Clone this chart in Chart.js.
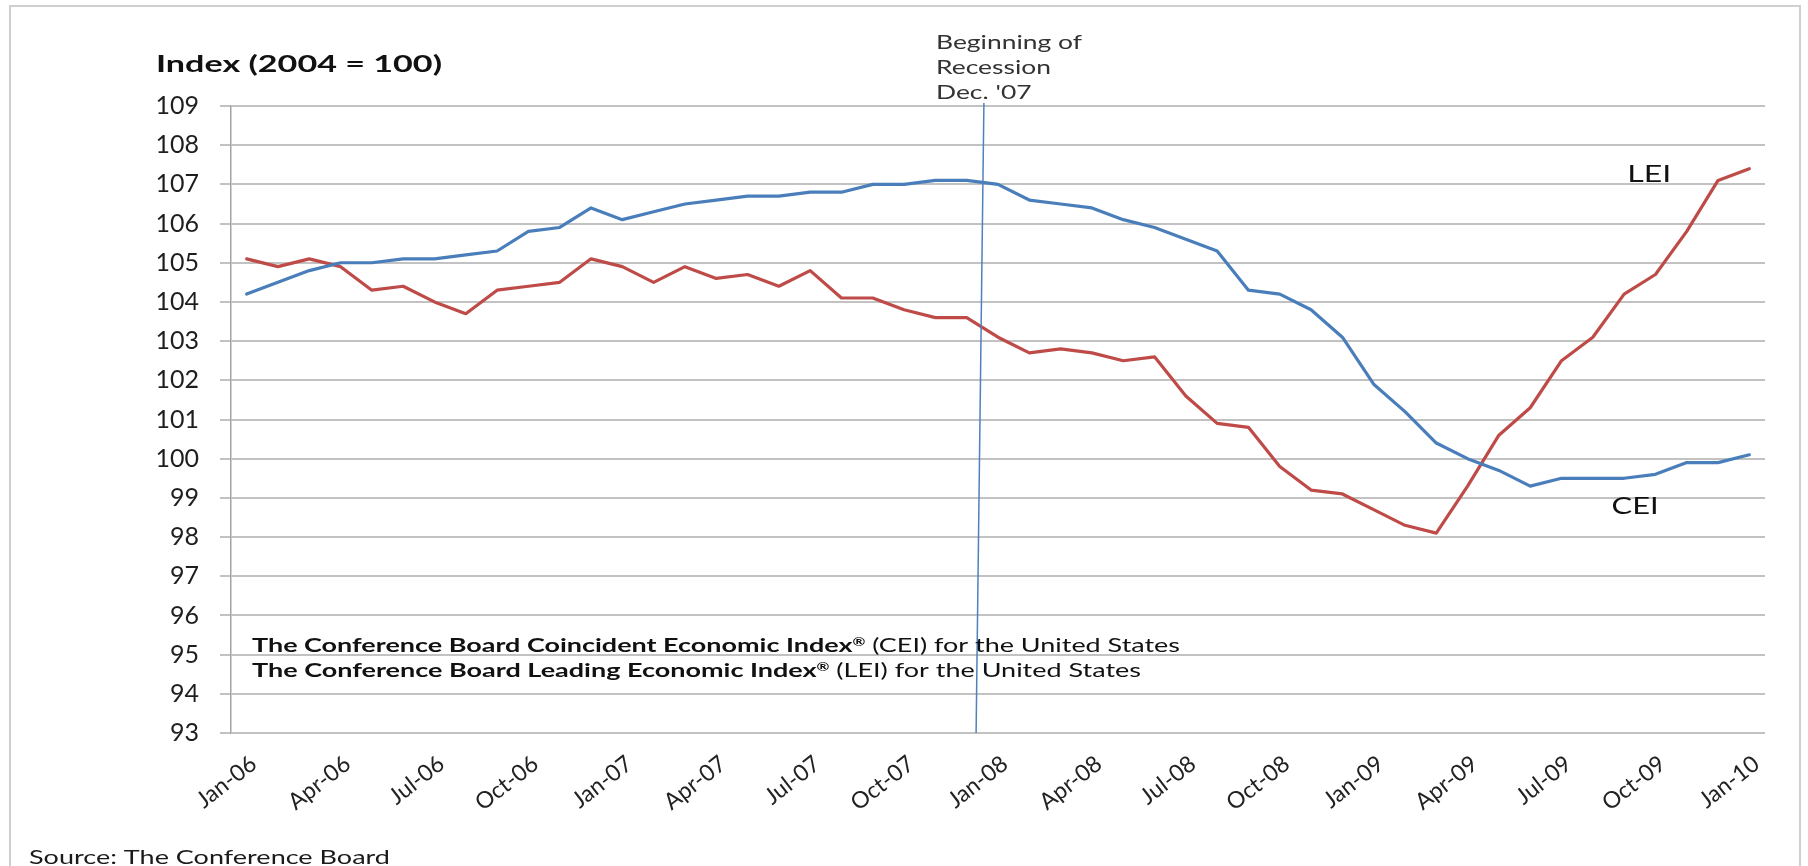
<!DOCTYPE html>
<html>
<head>
<meta charset="utf-8">
<title>Conference Board CEI and LEI</title>
<script src="https://cdn.jsdelivr.net/npm/chart.js@4.4.1/dist/chart.umd.min.js"></script>
<style>
    html, body { margin: 0; padding: 0; background: #fff; }
    canvas { display: block; }
</style>
</head>
<body>
<canvas id="indexChart" width="1808" height="866"></canvas>
<script>
// Monthly readings, Jan 2006 - Jan 2010
const months = [
    'Jan-06', 'Feb-06', 'Mar-06', 'Apr-06', 'May-06', 'Jun-06', 'Jul-06', 'Aug-06', 'Sep-06', 'Oct-06', 'Nov-06', 'Dec-06',
    'Jan-07', 'Feb-07', 'Mar-07', 'Apr-07', 'May-07', 'Jun-07', 'Jul-07', 'Aug-07', 'Sep-07', 'Oct-07', 'Nov-07', 'Dec-07',
    'Jan-08', 'Feb-08', 'Mar-08', 'Apr-08', 'May-08', 'Jun-08', 'Jul-08', 'Aug-08', 'Sep-08', 'Oct-08', 'Nov-08', 'Dec-08',
    'Jan-09', 'Feb-09', 'Mar-09', 'Apr-09', 'May-09', 'Jun-09', 'Jul-09', 'Aug-09', 'Sep-09', 'Oct-09', 'Nov-09', 'Dec-09',
    'Jan-10'
];

const cei = [
    104.2, 104.5, 104.8, 105.0, 105.0, 105.1, 105.1, 105.2, 105.3, 105.8, 105.9, 106.4,
    106.1, 106.3, 106.5, 106.6, 106.7, 106.7, 106.8, 106.8, 107.0, 107.0, 107.1, 107.1,
    107.0, 106.6, 106.5, 106.4, 106.1, 105.9, 105.6, 105.3, 104.3, 104.2, 103.8, 103.1,
    101.9, 101.2, 100.4, 100.0, 99.7, 99.3, 99.5, 99.5, 99.5, 99.6, 99.9, 99.9,
    100.1
];

const lei = [
    105.1, 104.9, 105.1, 104.9, 104.3, 104.4, 104.0, 103.7, 104.3, 104.4, 104.5, 105.1,
    104.9, 104.5, 104.9, 104.6, 104.7, 104.4, 104.8, 104.1, 104.1, 103.8, 103.6, 103.6,
    103.1, 102.7, 102.8, 102.7, 102.5, 102.6, 101.6, 100.9, 100.8, 99.8, 99.2, 99.1,
    98.7, 98.3, 98.1, 99.3, 100.6, 101.3, 102.5, 103.1, 104.2, 104.7, 105.8, 107.1,
    107.4
];

// quarterly labels along the bottom
const xTickLabels = [
    'Jan-06', 'Apr-06', 'Jul-06', 'Oct-06', 'Jan-07', 'Apr-07', 'Jul-07', 'Oct-07',
    'Jan-08', 'Apr-08', 'Jul-08', 'Oct-08', 'Jan-09', 'Apr-09', 'Jul-09', 'Oct-09', 'Jan-10'
];

const yMin = 93;
const yMax = 109;
const yStep = 1;

const FONT = 'Lato, "Open Sans", sans-serif';

// measure a run of text pieces and draw them squeezed/stretched to a width
function measureParts(ctx, parts) {
    let total = 0;
    parts.forEach(function(p) {
        ctx.font = p.font;
        p.w = ctx.measureText(p.text).width;
        total += p.w;
    });
    return total;
}

function drawParts(ctx, parts, x, y, sx, color) {
    ctx.save();
    ctx.fillStyle = color;
    ctx.textBaseline = 'alphabetic';
    ctx.textAlign = 'left';
    ctx.translate(x, y);
    ctx.scale(sx, 1);
    let cx = 0;
    parts.forEach(function(p) {
        ctx.font = p.font;
        ctx.fillText(p.text, cx, p.dy || 0);
        cx += p.w;
    });
    ctx.restore();
}

function drawFitted(ctx, parts, x, y, width, color) {
    const natural = measureParts(ctx, parts);
    drawParts(ctx, parts, x, y, width / natural, color);
}

const frame = {
    id: 'frame',
    beforeDraw(chart) {
        const ctx = chart.ctx;
        ctx.save();
        ctx.fillStyle = '#fff';
        ctx.fillRect(0, 0, chart.width, chart.height);
        ctx.strokeStyle = '#cfcfcf';
        ctx.lineWidth = 2;
        ctx.strokeRect(10, 6, 1790, 900);
        ctx.restore();
    }
};

const notes = {
    id: 'notes',
    afterDatasetsDraw(chart) {
        const ctx = chart.ctx;
        const x = chart.scales.x;
        const y = chart.scales.y;

        // recession marker, between Dec-07 and Jan-08
        const dec07 = months.indexOf('Dec-07');
        ctx.save();
        ctx.strokeStyle = '#4f81bd';
        ctx.lineWidth = 1.5;
        ctx.beginPath();
        ctx.moveTo(x.getPixelForValue(dec07 + 0.55), 103);
        ctx.lineTo(x.getPixelForValue(dec07 + 0.3), y.getPixelForValue(yMin));
        ctx.stroke();
        ctx.restore();
    },
    afterDraw(chart) {
        const ctx = chart.ctx;
        const x = chart.scales.x;
        const y = chart.scales.y;
        const area = chart.chartArea;

        // axis title
        drawFitted(ctx, [{ text: 'Index (2004 = 100)', font: 'bold 23px ' + FONT }], 156, 72, 286, '#111');

        // recession note
        const noteFont = '20px ' + FONT;
        const first = [{ text: 'Beginning of', font: noteFont }];
        const sx = 146 / measureParts(ctx, first);
        drawParts(ctx, first, 936, 49, sx, '#333');
        ['Recession', 'Dec. \'07'].forEach(function(line, i) {
            const parts = [{ text: line, font: noteFont }];
            measureParts(ctx, parts);
            drawParts(ctx, parts, 936, 74 + i * 25, sx, '#333');
        });

        // series names next to the lines
        drawFitted(ctx, [{ text: 'LEI', font: '24px ' + FONT }],
            x.getPixelForValue(44.1), y.getPixelForValue(107.05), 44, '#111');
        drawFitted(ctx, [{ text: 'CEI', font: '24px ' + FONT }],
            x.getPixelForValue(43.6), y.getPixelForValue(98.6), 47, '#111');

        // index descriptions inside the plot
        const bold = 'bold 19px ' + FONT;
        const reg = '19px ' + FONT;
        const mark = 'bold 11px ' + FONT;
        drawFitted(ctx, [
            { text: 'The Conference Board Coincident Economic Index', font: bold },
            { text: '\u00AE', font: mark, dy: -6 },
            { text: ' (CEI) for the United States', font: reg }
        ], area.left + 21, 652, 928, '#111');
        drawFitted(ctx, [
            { text: 'The Conference Board Leading Economic Index', font: bold },
            { text: '\u00AE', font: mark, dy: -6 },
            { text: ' (LEI) for the United States', font: reg }
        ], area.left + 21, 677, 889, '#111');

        // source line
        drawFitted(ctx, [{ text: 'Source: The Conference Board', font: '20px ' + FONT }], 29, 864, 361, '#1a1a1a');
    }
};

const ctx = document.getElementById('indexChart').getContext('2d');

new Chart(ctx, {
    type: 'line',
    data: {
        labels: months,
        datasets: [
            {
                label: 'CEI',
                data: cei,
                borderColor: '#4a7ebb',
                borderWidth: 3.2,
                pointRadius: 0,
                tension: 0,
                fill: false
            },
            {
                label: 'LEI',
                data: lei,
                borderColor: '#be4b48',
                borderWidth: 3.2,
                pointRadius: 0,
                tension: 0,
                fill: false
            }
        ]
    },
    options: {
        responsive: false,
        devicePixelRatio: 1,
        animation: false,
        layout: {
            padding: { top: 106, right: 43, bottom: 0, left: 0 }
        },
        plugins: {
            legend: { display: false },
            tooltip: { enabled: false }
        },
        elements: {
            line: { borderJoinStyle: 'round', borderCapStyle: 'round' }
        },
        scales: {
            x: {
                type: 'category',
                offset: true,
                grid: { display: false, drawTicks: false },
                border: { display: false },
                ticks: {
                    autoSkip: false,
                    minRotation: 38,
                    maxRotation: 38,
                    padding: 17,
                    labelOffset: 7,
                    color: '#222',
                    font: { family: FONT, size: 23 },
                    callback: function(value, index) {
                        const m = months[index];
                        return xTickLabels.includes(m) ? m : '';
                    }
                },
                afterFit: function(scale) {
                    scale.height = 133;
                }
            },
            y: {
                min: yMin,
                max: yMax,
                ticks: {
                    stepSize: yStep,
                    padding: 21,
                    color: '#1e1e1e',
                    font: { family: FONT, size: 25 }
                },
                grid: {
                    color: '#c2c2c2',
                    lineWidth: 2,
                    tickLength: 11
                },
                border: { color: '#a3a3a3', width: 1.5 },
                afterFit: function(scale) {
                    scale.width = 231;
                }
            }
        }
    },
    plugins: [frame, notes]
});
</script>
</body>
</html>
